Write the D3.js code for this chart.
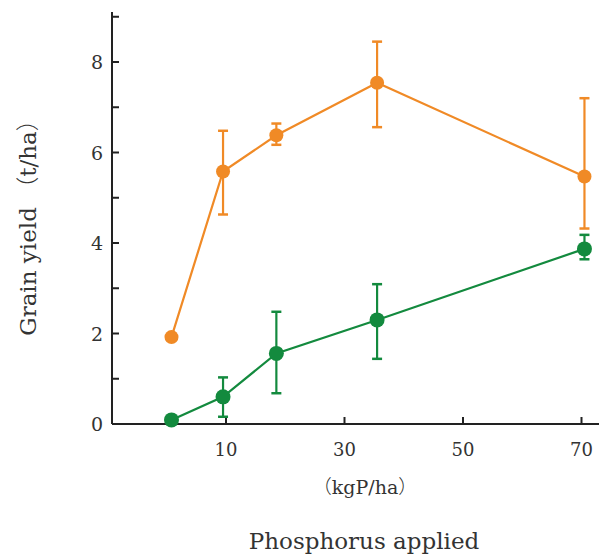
<!DOCTYPE html>
<html>
<head>
<meta charset="utf-8">
<script src="https://cdn.jsdelivr.net/npm/d3@7"></script>
<style>
  body { margin: 0; background: #fff; }
  svg { display: block; }
  svg text { font-family: "DejaVu Serif", serif; fill: #333; }
</style>
</head>
<body>
<div id="chart"></div>
<script>
// phosphorus rate (kgP/ha)
var xValues = [0.8, 9.5, 18.5, 35.5, 70.5];

// orange series: mean, upper and lower error bar ends
var orangeMean = [1.92, 5.58, 6.38, 7.54, 5.47];
var orangeHigh = [null, 6.48, 6.64, 8.45, 7.2];
var orangeLow  = [null, 4.63, 6.17, 6.56, 4.32];

// green series
var greenMean = [0.09, 0.6, 1.56, 2.3, 3.87];
var greenHigh = [null, 1.03, 2.48, 3.09, 4.18];
var greenLow  = [null, 0.16, 0.68, 1.44, 3.64];

var xTicks = [10, 30, 50, 70];
var yTicks = [0, 1, 2, 3, 4, 5, 6, 7, 8, 9];
var yLabels = [0, 2, 4, 6, 8];

var width = 599, height = 557;

var svg = d3.select("#chart").append("svg")
    .attr("width", width)
    .attr("height", height);

var x = d3.scaleLinear().domain([0, 70]).range([166.75, 581.5]);
var y = d3.scaleLinear().domain([0, 9]).range([424, 16.75]);

// axes
svg.append("line")
    .attr("x1", 112).attr("x2", 599)
    .attr("y1", y(0)).attr("y2", y(0))
    .attr("stroke", "#222").attr("stroke-width", 2);
svg.append("line")
    .attr("x1", 112).attr("x2", 112)
    .attr("y1", 12).attr("y2", y(0))
    .attr("stroke", "#222").attr("stroke-width", 2);

svg.selectAll(".ytick").data(yTicks).enter().append("line")
    .attr("x1", 112).attr("x2", 119)
    .attr("y1", d => y(d)).attr("y2", d => y(d))
    .attr("stroke", "#222").attr("stroke-width", 2);

svg.selectAll(".ylab").data(yLabels).enter().append("text")
    .attr("x", 103).attr("y", d => y(d) + 7)
    .attr("text-anchor", "end")
    .style("font-size", "19px")
    .text(d => d);

svg.selectAll(".xtick").data(xTicks).enter().append("line")
    .attr("x1", d => x(d)).attr("x2", d => x(d))
    .attr("y1", y(0)).attr("y2", y(0) - 7)
    .attr("stroke", "#222").attr("stroke-width", 2);

svg.selectAll(".xlab").data(xTicks).enter().append("text")
    .attr("x", d => x(d)).attr("y", 456)
    .attr("text-anchor", "middle")
    .style("font-size", "18px")
    .text(d => d);

// axis titles (full-width brackets, as in the source)
var yTitle = svg.append("text")
    .attr("transform", "translate(36,222) rotate(-90)")
    .attr("text-anchor", "middle")
    .style("font-size", "23px");
yTitle.append("tspan").text("Grain yield ");
yTitle.append("tspan").style("font-family", "'Noto Sans CJK JP'").style("font-weight", "300").text("（");
yTitle.append("tspan").text("t/ha");
yTitle.append("tspan").style("font-family", "'Noto Sans CJK JP'").style("font-weight", "300").text("）");

var xUnit = svg.append("text")
    .attr("x", 365).attr("y", 494)
    .attr("text-anchor", "middle")
    .style("font-size", "19px");
xUnit.append("tspan").style("font-family", "'Noto Sans CJK JP'").style("font-weight", "300").text("（");
xUnit.append("tspan").text("kgP/ha");
xUnit.append("tspan").style("font-family", "'Noto Sans CJK JP'").style("font-weight", "300").text("）");

svg.append("text")
    .attr("x", 364).attr("y", 549)
    .attr("text-anchor", "middle")
    .style("font-size", "23px")
    .text("Phosphorus applied");

function drawSeries(mean, high, low, color, r) {
    var pts = xValues.map((d, i) => ({x: d, m: mean[i], hi: high[i], lo: low[i]}));
    var line = d3.line().x(d => x(d.x)).y(d => y(d.m));
    var g = svg.append("g");
    g.append("path")
        .datum(pts)
        .attr("d", line)
        .attr("fill", "none")
        .attr("stroke", color)
        .attr("stroke-width", 2.2);
    var bars = pts.filter(d => d.hi != null);
    g.selectAll(".eb").data(bars).enter().append("line")
        .attr("x1", d => x(d.x)).attr("x2", d => x(d.x))
        .attr("y1", d => y(d.hi)).attr("y2", d => y(d.lo))
        .attr("stroke", color).attr("stroke-width", 2.2);
    g.selectAll(".capH").data(bars).enter().append("line")
        .attr("x1", d => x(d.x) - 5).attr("x2", d => x(d.x) + 5)
        .attr("y1", d => y(d.hi)).attr("y2", d => y(d.hi))
        .attr("stroke", color).attr("stroke-width", 2.5);
    g.selectAll(".capL").data(bars).enter().append("line")
        .attr("x1", d => x(d.x) - 5).attr("x2", d => x(d.x) + 5)
        .attr("y1", d => y(d.lo)).attr("y2", d => y(d.lo))
        .attr("stroke", color).attr("stroke-width", 2.5);
    g.selectAll("circle").data(pts).enter().append("circle")
        .attr("cx", d => x(d.x)).attr("cy", d => y(d.m))
        .attr("r", r)
        .attr("fill", color);
}

drawSeries(orangeMean, orangeHigh, orangeLow, "#f08a26", 7);
drawSeries(greenMean, greenHigh, greenLow, "#138a3e", 7.5);
</script>
</body>
</html>
